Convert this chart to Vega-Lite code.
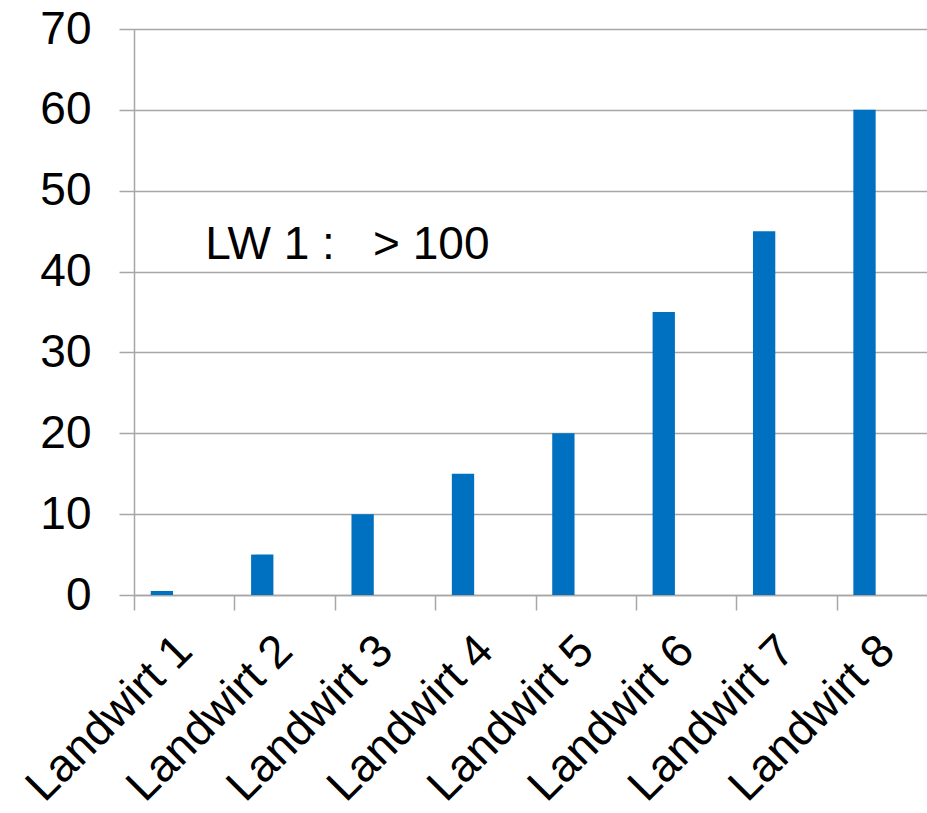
{
  "$schema": "https://vega.github.io/schema/vega-lite/v6.json",
  "autosize": {"type": "none"},
  "padding": {"left": 134, "top": 29, "right": 0, "bottom": 218},
  "width": 793,
  "height": 566,
  "background": "white",
  "config": {
    "view": {"stroke": null},
    "font": "Liberation Sans",
    "axis": {
      "domainColor": "#a6a6a6",
      "domainWidth": 1.5,
      "tickColor": "#a6a6a6",
      "tickWidth": 1.5,
      "tickSize": 15,
      "gridColor": "#a6a6a6",
      "gridWidth": 1.5,
      "labelColor": "black",
      "labelFont": "Liberation Sans",
      "labelFontSize": 46,
      "labelLimit": 0,
      "title": null
    }
  },
  "datasets": {
    "bars": [
      {"landwirt": "Landwirt 1", "reihe": "R1", "wert": 0.5},
      {"landwirt": "Landwirt 2", "reihe": "R1", "wert": 5},
      {"landwirt": "Landwirt 3", "reihe": "R1", "wert": 10},
      {"landwirt": "Landwirt 4", "reihe": "R1", "wert": 15},
      {"landwirt": "Landwirt 5", "reihe": "R1", "wert": 20},
      {"landwirt": "Landwirt 6", "reihe": "R1", "wert": 35},
      {"landwirt": "Landwirt 7", "reihe": "R1", "wert": 45},
      {"landwirt": "Landwirt 8", "reihe": "R1", "wert": 60}
    ],
    "notiz": [
      {"landwirt": "Landwirt 1", "wert": 41.5, "text": "LW 1 :\u00a0\u00a0 > 100"}
    ]
  },
  "layer": [
    {
      "data": {"name": "bars"},
      "mark": {"type": "bar", "color": "#0070C0"},
      "encoding": {
        "x": {
          "field": "landwirt",
          "type": "nominal",
          "sort": null,
          "scale": {"range": [0, 803], "paddingInner": 0, "paddingOuter": 0},
          "axis": {
            "tickBand": "extent",
            "labelAngle": -45,
            "labelAlign": "right",
            "labelBaseline": "middle",
            "labelPadding": 33,
            "grid": false
          }
        },
        "xOffset": {
          "field": "reihe",
          "type": "nominal",
          "scale": {"domain": ["R1", "R2", "R3"], "paddingInner": 0, "paddingOuter": 0.75}
        },
        "y": {
          "field": "wert",
          "type": "quantitative",
          "scale": {"domain": [0, 70], "nice": false},
          "axis": {
            "values": [0, 10, 20, 30, 40, 50, 60, 70],
            "grid": true,
            "labelPadding": 28
          }
        }
      }
    },
    {
      "data": {"name": "notiz"},
      "mark": {"type": "text", "align": "left", "baseline": "alphabetic", "fontSize": 46, "font": "Liberation Sans", "color": "black"},
      "encoding": {
        "x": {"field": "landwirt", "type": "nominal", "bandPosition": 0.71},
        "y": {"field": "wert", "type": "quantitative"},
        "text": {"field": "text"}
      }
    }
  ]
}
